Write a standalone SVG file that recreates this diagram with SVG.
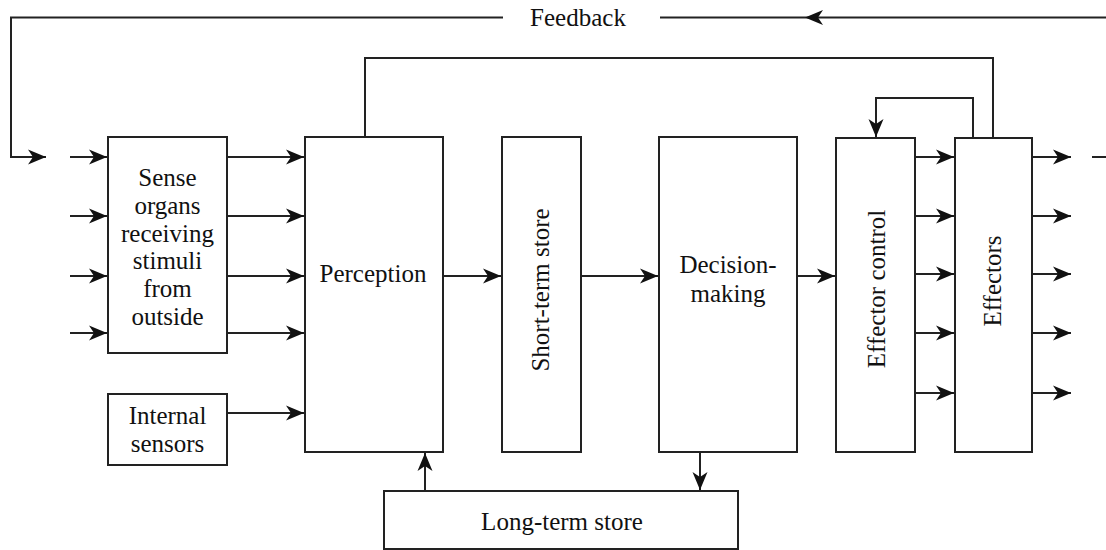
<svg xmlns="http://www.w3.org/2000/svg" width="1106" height="550" viewBox="0 0 1106 550">
<style>
.box{fill:#fff;stroke:#222;stroke-width:2}
.ln{fill:none;stroke:#222;stroke-width:2}
.t{font-family:'Liberation Serif','DejaVu Serif',serif;font-size:25px;fill:#111;text-anchor:middle}
</style>
<defs>
<marker id="ah" markerUnits="userSpaceOnUse" markerWidth="19" markerHeight="16" viewBox="0 0 19 16" refX="18" refY="8" orient="auto">
<path d="M0,0.5 L18,8 L0,15.5 L5,8 z" fill="#111"/>
</marker>
</defs>
<rect width="1106" height="550" fill="#fff"/>
<g id="connectors">
<path class="ln" d="M503,17.5 H11 V157 H46" marker-end="url(#ah)"/>
<path class="ln" d="M1106,17.5 H805" marker-end="url(#ah)"/>
<path class="ln" d="M805,17.5 H660"/>
<path class="ln" d="M70,157 H107" marker-end="url(#ah)"/>
<path class="ln" d="M70,216 H107" marker-end="url(#ah)"/>
<path class="ln" d="M70,276 H107" marker-end="url(#ah)"/>
<path class="ln" d="M70,333 H107" marker-end="url(#ah)"/>
<path class="ln" d="M227,157 H304" marker-end="url(#ah)"/>
<path class="ln" d="M227,216 H304" marker-end="url(#ah)"/>
<path class="ln" d="M227,276 H304" marker-end="url(#ah)"/>
<path class="ln" d="M227,333 H304" marker-end="url(#ah)"/>
<path class="ln" d="M227,413 H304" marker-end="url(#ah)"/>
<path class="ln" d="M443,276 H501" marker-end="url(#ah)"/>
<path class="ln" d="M581,276 H658" marker-end="url(#ah)"/>
<path class="ln" d="M797,276 H835" marker-end="url(#ah)"/>
<path class="ln" d="M365,137 V58 H993 V137"/>
<path class="ln" d="M973,137 V98 H876 V137" marker-end="url(#ah)"/>
<path class="ln" d="M915,157 H954" marker-end="url(#ah)"/>
<path class="ln" d="M915,216 H954" marker-end="url(#ah)"/>
<path class="ln" d="M915,274 H954" marker-end="url(#ah)"/>
<path class="ln" d="M915,333 H954" marker-end="url(#ah)"/>
<path class="ln" d="M915,393 H954" marker-end="url(#ah)"/>
<path class="ln" d="M1032,157 H1071" marker-end="url(#ah)"/>
<path class="ln" d="M1032,216 H1071" marker-end="url(#ah)"/>
<path class="ln" d="M1032,274 H1071" marker-end="url(#ah)"/>
<path class="ln" d="M1032,333 H1071" marker-end="url(#ah)"/>
<path class="ln" d="M1032,393 H1071" marker-end="url(#ah)"/>
<path class="ln" d="M1092,157 H1106"/>
<path class="ln" d="M425,491 V453" marker-end="url(#ah)"/>
<path class="ln" d="M700,452 V490" marker-end="url(#ah)"/>
</g>
<text class="t" x="578" y="26">Feedback</text>
<g id="sense">
<rect class="box" x="108" y="137" width="119" height="216"/>
<text class="t" x="167.5" y="186">Sense</text>
<text class="t" x="167.5" y="214">organs</text>
<text class="t" x="167.5" y="242">receiving</text>
<text class="t" x="167.5" y="269">stimuli</text>
<text class="t" x="167.5" y="297">from</text>
<text class="t" x="167.5" y="325">outside</text>
</g>
<g id="internal">
<rect class="box" x="108" y="394" width="119" height="71"/>
<text class="t" x="167.5" y="424">Internal</text>
<text class="t" x="167.5" y="452">sensors</text>
</g>
<g id="perception">
<rect class="box" x="305" y="137" width="138" height="315"/>
<text class="t" x="373" y="282">Perception</text>
</g>
<g id="shortterm">
<rect class="box" x="502" y="137" width="79" height="315"/>
<text class="t" transform="translate(549,290) rotate(-90)">Short-term store</text>
</g>
<g id="decision">
<rect class="box" x="659" y="137" width="138" height="315"/>
<text class="t" x="728" y="273">Decision-</text>
<text class="t" x="728" y="302">making</text>
</g>
<g id="effcontrol">
<rect class="box" x="836" y="138" width="79" height="314"/>
<text class="t" transform="translate(885,289) rotate(-90)">Effector control</text>
</g>
<g id="effectors">
<rect class="box" x="955" y="138" width="77" height="314"/>
<text class="t" transform="translate(1001,281) rotate(-90)">Effectors</text>
</g>
<g id="longterm">
<rect class="box" x="384" y="491" width="354" height="58"/>
<text class="t" x="562" y="530">Long-term store</text>
</g>
</svg>
